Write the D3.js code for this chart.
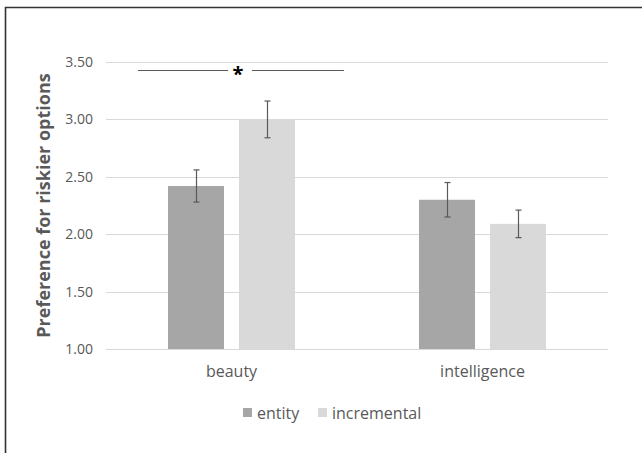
<!DOCTYPE html>
<html>
<head>
<meta charset="utf-8">
<script src="https://cdn.jsdelivr.net/npm/d3@7"></script>
<style>
  body { margin: 0; background: #fff; }
  text { font-family: "Open Sans", "Liberation Sans", sans-serif; }
</style>
</head>
<body>
<div id="vis"></div>
<script>
// chart values
var categories = ["beauty", "intelligence"];
var seriesNames = ["entity", "incremental"];
var entityMeans = [2.42, 2.30];
var incrementalMeans = [3.00, 2.09];
var entityErr = [0.14, 0.15];
var incrementalErr = [0.16, 0.12];
var yTicks = [1.0, 1.5, 2.0, 2.5, 3.0, 3.5];
var sigLevel = 3.43;

var opts = {
  "width": 642,
  "height": 453,
  "left": 106,
  "right": 608,
  "top": 62,
  "bottom": 349
};
var colors = { "entity": "#a6a6a6", "incremental": "#d9d9d9" };

var rows = [];
categories.forEach(function(c, i) {
  rows.push({ cat: c, series: "entity", value: entityMeans[i], err: entityErr[i] });
  rows.push({ cat: c, series: "incremental", value: incrementalMeans[i], err: incrementalErr[i] });
});

var svg = d3.select("#vis").append("svg")
  .attr("width", opts.width)
  .attr("height", opts.height);

svg.append("rect")
  .attr("width", opts.width).attr("height", opts.height)
  .attr("fill", "#fff");

// outer frame (only top and left visible)
svg.append("path")
  .attr("d", "M5.5," + opts.height + "V7.5H" + opts.width)
  .attr("fill", "none")
  .attr("stroke", "#333")
  .attr("stroke-width", 1.6);

var x = d3.scaleBand().domain(categories).range([opts.left, opts.right]);
var half = x.bandwidth() / 2;
var xs = d3.scaleBand().domain(seriesNames).range([half - 63.5, half + 63.5])
  .paddingInner(0.211).paddingOuter(0);
var y = d3.scaleLinear().domain([1, 3.5]).range([opts.bottom, opts.top]);

// gridlines
svg.append("g").selectAll("line")
  .data(yTicks)
  .enter().append("line")
  .attr("x1", opts.left).attr("x2", opts.right)
  .attr("y1", function(d) { return Math.round(y(d)) + 0.5; })
  .attr("y2", function(d) { return Math.round(y(d)) + 0.5; })
  .attr("stroke", "#d9d9d9")
  .attr("stroke-width", 1);

// y tick labels
var yAxis = svg.append("g")
  .attr("transform", "translate(" + (opts.left - 13) + ",0)")
  .call(d3.axisLeft(y).tickValues(yTicks).tickFormat(d3.format(".2f")).tickSize(0));
yAxis.select(".domain").remove();
yAxis.selectAll("text")
  .attr("fill", "#595959")
  .style("font-size", "14px")
  .attr("x", 0);

// bars
svg.append("g").selectAll("rect")
  .data(rows)
  .enter().append("rect")
  .attr("x", function(d) { return x(d.cat) + xs(d.series); })
  .attr("width", xs.bandwidth())
  .attr("y", function(d) { return y(d.value); })
  .attr("height", function(d) { return y(1) - y(d.value); })
  .attr("fill", function(d) { return colors[d.series]; });

// error bars
var eb = svg.append("g").selectAll("g")
  .data(rows)
  .enter().append("g")
  .attr("stroke", "#595959")
  .attr("stroke-width", 1.2);
function cx(d) { return Math.round(x(d.cat) + xs(d.series) + xs.bandwidth() / 2) + 0.5; }
eb.append("line")
  .attr("x1", cx).attr("x2", cx)
  .attr("y1", function(d) { return y(d.value + d.err); })
  .attr("y2", function(d) { return y(d.value - d.err); });
eb.append("line")
  .attr("x1", function(d) { return cx(d) - 3; }).attr("x2", function(d) { return cx(d) + 3; })
  .attr("y1", function(d) { return y(d.value + d.err); })
  .attr("y2", function(d) { return y(d.value + d.err); });
eb.append("line")
  .attr("x1", function(d) { return cx(d) - 3; }).attr("x2", function(d) { return cx(d) + 3; })
  .attr("y1", function(d) { return y(d.value - d.err); })
  .attr("y2", function(d) { return y(d.value - d.err); });

// x category labels
var xAxis = svg.append("g")
  .attr("transform", "translate(0," + (opts.bottom + 14) + ")")
  .call(d3.axisBottom(x).tickSize(0));
xAxis.select(".domain").remove();
xAxis.selectAll("text")
  .attr("fill", "#595959")
  .style("font-size", "16px");

// y axis title
svg.append("text")
  .attr("transform", "translate(50," + (opts.top + opts.bottom) / 2 + ") rotate(-90)")
  .attr("text-anchor", "middle")
  .attr("fill", "#595959")
  .style("font-size", "18px")
  .style("font-weight", "bold")
  .text("Preference for riskier options");

// significance line
var sigY = Math.round(y(sigLevel)) + 0.5;
var bx = x("beauty");
svg.append("line")
  .attr("x1", bx + xs("entity") - 30).attr("x2", bx + xs("entity") + 60)
  .attr("y1", sigY).attr("y2", sigY)
  .attr("stroke", "#595959").attr("stroke-width", 1);
svg.append("line")
  .attr("x1", bx + xs("incremental") + 13).attr("x2", bx + xs("incremental") + 105)
  .attr("y1", sigY).attr("y2", sigY)
  .attr("stroke", "#595959").attr("stroke-width", 1);
svg.append("text")
  .attr("x", bx + xs("entity") + 70)
  .attr("y", sigY + 10)
  .attr("text-anchor", "middle")
  .attr("fill", "#000")
  .style("font-size", "20px")
  .style("font-weight", "bold")
  .text("*");

// legend
var legend = svg.append("g").attr("transform", "translate(243,413)");
var legendX = [0, 75];
seriesNames.forEach(function(s, i) {
  var g = legend.append("g").attr("transform", "translate(" + legendX[i] + ",0)");
  g.append("rect")
    .attr("x", 0).attr("y", -5).attr("width", 9).attr("height", 9)
    .attr("fill", colors[s]);
  g.append("text")
    .attr("x", 14).attr("y", 5.5)
    .attr("fill", "#595959")
    .style("font-size", "16px")
    .text(s);
});
</script>
</body>
</html>
